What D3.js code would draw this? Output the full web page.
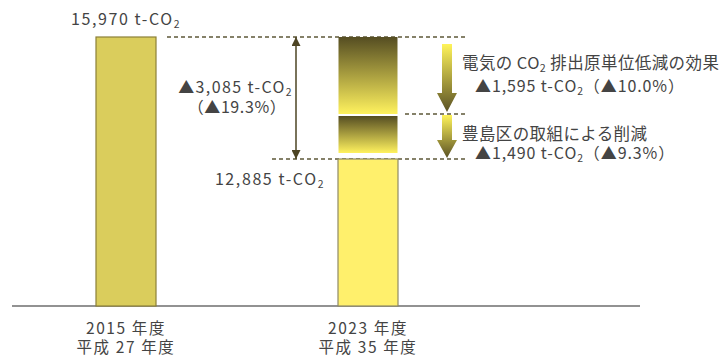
<!DOCTYPE html>
<html>
<head>
<meta charset="utf-8">
<script src="https://cdn.jsdelivr.net/npm/d3@7"></script>
<style>
  body { margin: 0; background: #fff; }
  text { font-family: "Noto Sans CJK JP", "Noto Sans", sans-serif; fill: #444; }
</style>
</head>
<body>
<svg id="chart" width="724" height="358"></svg>
<script>
// data
const years = ["2015 年度", "2023 年度"];
const eraLabels = ["平成 27 年度", "平成 35 年度"];
const totals = [15970, 12885];
const reductionNames = ["電気の CO2 排出原単位低減の効果", "豊島区の取組による削減"];
const reductions = [1595, 1490];
const reductionPct = [10.0, 9.3];
const totalReduction = 3085;
const totalPct = 19.3;
const axisMin = 9170;

const svg = d3.select("#chart");
const fmt = d3.format(",");

// stacked boundaries of the reduction part
const stackTops = [totals[0], totals[0] - reductions[0]];
const stackBottoms = [totals[0] - reductions[0], totals[1]];

// schematic (piecewise) value scale, like the original drawing
const y = d3.scaleLinear()
  .domain([axisMin, totals[1], stackTops[1], totals[0]])
  .range([306, 159, 114, 37]);

const x = d3.scalePoint().domain(years).range([126, 368]);
const barW = 60;

const defs = svg.append("defs");
const g1 = defs.append("linearGradient").attr("id", "blockGrad")
  .attr("x1", 0).attr("y1", 0).attr("x2", 0).attr("y2", 1);
g1.append("stop").attr("offset", "0%").attr("stop-color", "#554d22");
g1.append("stop").attr("offset", "100%").attr("stop-color", "#fff25e");
const g2 = defs.append("linearGradient").attr("id", "arrowGrad")
  .attr("x1", 0).attr("y1", 0).attr("x2", 0).attr("y2", 1);
g2.append("stop").attr("offset", "0%").attr("stop-color", "#fff45a");
g2.append("stop").attr("offset", "100%").attr("stop-color", "#5a5124");

["arrowEnd", "arrowStart"].forEach(id => {
  defs.append("marker").attr("id", id)
    .attr("viewBox", "0 0 10 10").attr("refX", 10).attr("refY", 5)
    .attr("markerWidth", 9).attr("markerHeight", 9)
    .attr("markerUnits", "userSpaceOnUse")
    .attr("orient", "auto-start-reverse")
    .append("path").attr("d", "M0,0L10,5L0,10Z").attr("fill", "#4d4423");
});

// x axis baseline
svg.append("line")
  .attr("x1", 12).attr("x2", 640)
  .attr("y1", y(axisMin)).attr("y2", y(axisMin))
  .attr("stroke", "#6e6e6e").attr("stroke-width", 1.5);

// dashed guide lines
const dash = [
  { v: totals[0], x1: 167, x2: 465 },
  { v: stackTops[1], x1: 405, x2: 465 },
  { v: totals[1], x1: 272, x2: 465 }
];
svg.selectAll(".guide").data(dash).enter().append("line")
  .attr("x1", d => d.x1).attr("x2", d => d.x2)
  .attr("y1", d => y(d.v)).attr("y2", d => y(d.v))
  .attr("stroke", "#5e5838").attr("stroke-width", 1.3)
  .attr("stroke-dasharray", "4,3");

// bars
const barFill = ["#dacd5c", "#fff06c"];
const barStroke = ["#8c8038", "#8f8a66"];
svg.selectAll(".bar").data(years).enter().append("rect")
  .attr("x", d => x(d) - barW / 2)
  .attr("y", (d, i) => y(totals[i]))
  .attr("width", barW)
  .attr("height", (d, i) => y(axisMin) - y(totals[i]))
  .attr("fill", (d, i) => barFill[i])
  .attr("stroke", (d, i) => barStroke[i]).attr("stroke-width", 1.2);

// reduction blocks on top of 2023 bar
const insetTop = [0, 2], insetBot = [0, 6];
svg.selectAll(".block").data(reductions).enter().append("rect")
  .attr("x", x(years[1]) - barW / 2 + 0.5)
  .attr("y", (d, i) => y(stackTops[i]) + insetTop[i])
  .attr("width", barW - 1)
  .attr("height", (d, i) => y(stackBottoms[i]) - y(stackTops[i]) - insetTop[i] - insetBot[i])
  .attr("fill", "url(#blockGrad)");

// block arrows on the right
const ax = 447, shaftW = 10, headW = 20;
const aTop = [7, 1], aTip = [2, 1], headL = [19, 18];
svg.selectAll(".barrow").data(reductions).enter().append("path")
  .attr("d", (d, i) => {
    const t = y(stackTops[i]) + aTop[i], b = y(stackBottoms[i]) - aTip[i], h = b - headL[i];
    return `M${ax - shaftW / 2},${t}L${ax + shaftW / 2},${t}L${ax + shaftW / 2},${h}L${ax + headW / 2},${h}` +
      `L${ax},${b}L${ax - headW / 2},${h}L${ax - shaftW / 2},${h}Z`;
  })
  .attr("fill", "url(#arrowGrad)");

// double headed arrow for total reduction
svg.append("line")
  .attr("x1", 296).attr("x2", 296)
  .attr("y1", y(totals[0])).attr("y2", y(totals[1]))
  .attr("stroke", "#4d4423").attr("stroke-width", 1.5)
  .attr("marker-start", "url(#arrowStart)").attr("marker-end", "url(#arrowEnd)");

// text helper: writes "CO2" with a subscript 2
function co2Text(sel, str, size) {
  const parts = str.split("CO2");
  parts.forEach((p, i) => {
    if (p) sel.append("tspan").attr("font-size", size).text(p);
    if (i < parts.length - 1) {
      sel.append("tspan").attr("font-size", size).text("CO");
      sel.append("tspan").text("2").attr("font-size", size * 0.65).attr("dy", 3);
      sel.append("tspan").attr("font-size", size).text("\u200b").attr("dy", -3);
    }
  });
}
function label(xp, yp, str, anchor, size, spacing) {
  const t = svg.append("text").attr("x", xp).attr("y", yp)
    .attr("text-anchor", anchor).attr("font-size", size)
    .attr("letter-spacing", spacing);
  co2Text(t, str, size);
  return t;
}

label(x(years[0]), y(totals[0]) - 12, `${fmt(totals[0])} t-CO2`, "middle", 16, 1.6);
label(325, y(totals[1]) + 26, `${fmt(totals[1])} t-CO2`, "end", 16, 1.6);
label(293, 93, `▲${fmt(totalReduction)} t-CO2`, "end", 16, 1.4);
label(237, 113, `（▲${totalPct}%）`, "middle", 16, 0.6);

const nameY = [69, 140], valY = [92, 159];
reductions.forEach((r, i) => {
  label(462, nameY[i], reductionNames[i], "start", 16.5, 0.4);
  label(475, valY[i], `▲${fmt(r)} t-CO2（▲${reductionPct[i].toFixed(1)}%）`, "start", 16, 0.9);
});

years.forEach((yr, i) => {
  label(x(yr), 334, yr, "middle", 15.5, 1.6);
  label(x(yr), 353, eraLabels[i], "middle", 15.5, 1.6);
});
</script>
</body>
</html>
